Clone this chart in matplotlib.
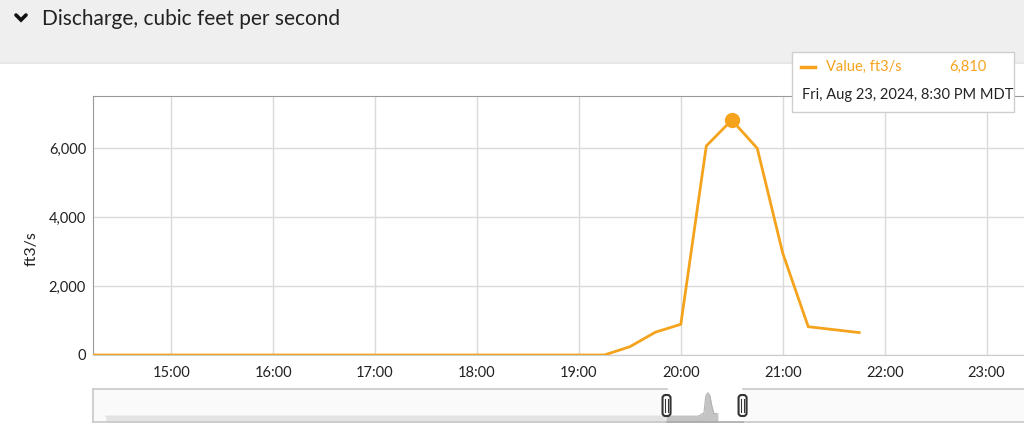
import matplotlib
matplotlib.use("Agg")
import matplotlib.pyplot as plt
import matplotlib.dates as mdates
import matplotlib.transforms as mtransforms
import pandas as pd
from matplotlib.lines import Line2D
from matplotlib.patches import Rectangle, FancyBboxPatch
from matplotlib.ticker import FuncFormatter, FixedLocator

# discharge series (15 min readings, flat zero run kept as its end points)
times = ["2024-08-20 17:15", "2024-08-23 14:00", "2024-08-23 19:15",
         "2024-08-23 19:30", "2024-08-23 19:45", "2024-08-23 20:00",
         "2024-08-23 20:15", "2024-08-23 20:30", "2024-08-23 20:45",
         "2024-08-23 21:00", "2024-08-23 21:15", "2024-08-23 21:45"]
discharge = [0, 0, 0, 240, 660, 890, 6060, 6810, 5990, 2950, 820, 650]

title = "Discharge, cubic feet per second"
y_label = "ft3/s"
series_name = "Value, ft3/s"
y_ticks = [0, 2000, 4000, 6000]

view_range = ["2024-08-23 14:14", "2024-08-23 23:22"]
nav_range = ["2024-08-20 15:40", "2024-08-25 12:00"]
nav_window = ["2024-08-23 15:20", "2024-08-24 00:50"]

ORANGE = "#f5a31c"
GRID = "#dadada"
W, H = 1024, 443

plt.rcParams["font.family"] = ["Lato", "DejaVu Sans"]


def fx(px):
    return px / W


def fy(py):
    return 1 - py / H


def main():
    t = pd.to_datetime(times)
    v = pd.Series(discharge, index=t)
    peak_t = v.idxmax()
    peak_v = v.max()

    fig = plt.figure(figsize=(W / 100, H / 100), dpi=100)
    fig.patch.set_facecolor("white")

    # header band
    fig.add_artist(Rectangle((0, fy(62)), 1, 62 / H, transform=fig.transFigure,
                             facecolor="#efefef", edgecolor="none", zorder=0))
    fig.add_artist(Line2D([0, 1], [fy(62.5), fy(62.5)], transform=fig.transFigure,
                          color="#e2e2e2", lw=1.2))
    fig.add_artist(Line2D([fx(16), fx(21), fx(26)], [fy(15), fy(20), fy(15)],
                          transform=fig.transFigure, color="#111111", lw=2.6,
                          solid_capstyle="round", solid_joinstyle="miter"))
    fig.text(fx(42), fy(19), title, fontsize=15, color="#222222", va="center")

    # main chart
    ax = fig.add_axes([fx(93), fy(355), fx(1024 - 93), (355 - 96) / H])
    ax.plot(t, discharge, color=ORANGE, lw=2, zorder=3, clip_on=True,
            solid_joinstyle="miter")
    ax.plot([peak_t], [peak_v], "o", color=ORANGE, ms=10, zorder=4)
    ax.set_xlim(pd.to_datetime(view_range[0]), pd.to_datetime(view_range[1]))
    ax.set_ylim(0, 7507)
    ax.yaxis.set_major_locator(FixedLocator(y_ticks))
    ax.yaxis.set_major_formatter(FuncFormatter(lambda x, p: f"{x:,.0f}"))
    ax.xaxis.set_major_locator(mdates.HourLocator())
    ax.xaxis.set_major_formatter(mdates.DateFormatter("%H:%M"))
    ax.grid(True, color=GRID, lw=1)
    ax.set_axisbelow(True)
    ax.tick_params(length=0, labelsize=10.5, colors="#222222")
    ax.tick_params(axis="x", pad=8)
    ax.tick_params(axis="y", pad=5)
    for s in ["top", "left"]:
        ax.spines[s].set_color("#999999")
    ax.spines["right"].set_visible(False)
    ax.spines["bottom"].set_color("#cccccc")
    ax.set_ylabel(y_label, fontsize=11.5, color="#222222")
    ax.yaxis.set_label_coords(-(93 - 39) / (1024 - 93), 0.41)

    # navigator
    nav = fig.add_axes([fx(93), fy(422), fx(1024 - 93), 33 / H])
    nav.fill_between(t, discharge, -1700, color="#c4c4c4", lw=0, zorder=1)
    nav.plot(t, discharge, color="#b3b3b3", lw=0.8, zorder=2)
    x0, x1 = pd.to_datetime(nav_range[0]), pd.to_datetime(nav_range[1])
    h0, h1 = pd.to_datetime(nav_window[0]), pd.to_datetime(nav_window[1])
    nav.set_xlim(x0, x1)
    nav.set_ylim(-1700, 7940)
    nav.set_xticks([])
    nav.set_yticks([])
    for s in nav.spines.values():
        s.set_visible(False)
    tr = mtransforms.blended_transform_factory(nav.transData, nav.transAxes)
    for a, b in [(x0, h0), (h1, x1)]:
        da, db = mdates.date2num(a), mdates.date2num(b)
        nav.add_patch(Rectangle((da, 0), db - da, 1, transform=tr,
                                facecolor=(0.97, 0.97, 0.97, 0.62),
                                edgecolor="none", zorder=3))
        nav.plot([da, db], [1, 1], transform=tr, color="#c8c8c8", lw=1.2,
                 zorder=4, clip_on=False)
        nav.plot([da, db], [0, 0], transform=tr, color="#c8c8c8", lw=1.2,
                 zorder=4, clip_on=False)
    nav.plot([x0, x0], [0, 1], transform=tr, color="#c8c8c8", lw=1.2,
             zorder=4, clip_on=False)
    nav.plot([h0, h1], [0, 0], transform=tr, color="#a8a8a8", lw=1.2,
             zorder=4, clip_on=False)

    # handles, placed in pixels at the window edges
    ident = mtransforms.IdentityTransform()
    for h in [h0, h1]:
        xp = nav.transData.transform((mdates.date2num(h), 0))[0]
        yc = H - 405.5
        fig.add_artist(FancyBboxPatch((xp - 4, yc - 10.5), 8, 21,
                                      boxstyle="round,pad=0,rounding_size=3",
                                      transform=ident, facecolor="white",
                                      edgecolor="#333333", lw=1.5, zorder=6))
        for dx in (-1.5, 1.5):
            fig.add_artist(Line2D([xp + dx, xp + dx], [yc - 6.5, yc + 6.5],
                                  transform=ident, color="#333333", lw=0.8,
                                  zorder=7))

    # tooltip
    fig.add_artist(Rectangle((fx(792), fy(112)), fx(222), 60 / H,
                             transform=fig.transFigure, facecolor="white",
                             edgecolor="#cfcfcf", lw=1, zorder=8))
    fig.add_artist(Line2D([fx(801), fx(815)], [fy(67), fy(67)],
                          transform=fig.transFigure, color=ORANGE, lw=2.5,
                          zorder=9))
    fig.text(fx(826), fy(67), series_name, color=ORANGE, fontsize=10.5,
             va="center", zorder=9)
    fig.text(fx(987), fy(67), f"{peak_v:,.0f}", color=ORANGE, fontsize=10.5,
             va="center", ha="right", zorder=9)
    stamp = f"{peak_t:%a, %b %d, %Y}, {peak_t.hour % 12 or 12}:{peak_t:%M %p} MDT"
    fig.text(fx(802), fy(95), stamp, color="#222222", fontsize=10.5,
             va="center", zorder=9)

    fig.savefig("out.png", dpi=100)


if __name__ == "__main__":
    main()
